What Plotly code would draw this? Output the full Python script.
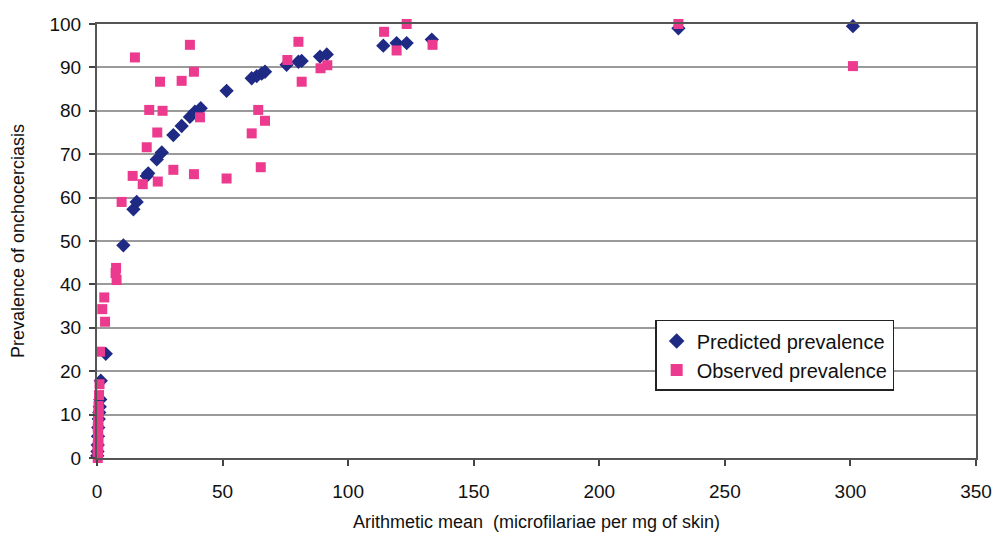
import plotly.graph_objects as go

# Predicted prevalence (blue diamonds)
pred_x = [0.1, 0.2, 0.3, 0.4, 0.5, 0.7, 0.9, 1.1, 1.3, 1.5, 3.5,
          10.5, 14.5, 15.8, 19.8, 20.4, 23.8, 25.8, 30.4, 33.7, 37.0, 39.0, 41.3,
          51.6, 61.6, 63.6, 65.6, 66.9, 75.5, 80.2, 81.5, 88.8, 91.5,
          114.0, 119.3, 123.3, 133.3, 231.5, 301.0]
pred_y = [0.5, 1.5, 3.0, 5.0, 7.0, 9.0, 10.5, 11.8, 13.5, 17.8, 24.0,
          49.0, 57.3, 59.0, 65.0, 65.6, 68.8, 70.4, 74.4, 76.5, 78.6, 79.8, 80.6,
          84.6, 87.5, 88.0, 88.6, 89.0, 90.6, 91.3, 91.5, 92.5, 93.0,
          95.0, 95.6, 95.6, 96.4, 99.0, 99.5]

# Observed prevalence (pink squares)
obs_x = [0.3, 0.4, 0.2, 0.5, 0.3, 0.6, 0.4, 0.5, 0.3, 0.6, 0.4, 0.5, 0.7, 0.6, 0.8, 1.0,
         1.2, 3.2, 2.1, 2.9, 7.8, 7.4, 7.6, 9.8,
         14.2, 15.1, 18.2, 19.8, 20.8, 24.0, 24.2, 25.1, 26.1, 30.4, 33.7, 37.0, 38.6, 38.6, 41.0,
         51.6, 61.6, 64.2, 65.2, 66.9, 75.8, 80.2, 81.5, 89.0, 91.7,
         114.3, 119.3, 123.3, 133.6, 231.5, 301.0]
obs_y = [0.0, 0.8, 1.5, 2.3, 3.0, 4.0, 5.0, 6.0, 7.0, 8.0, 9.0, 10.0, 11.0, 12.0, 14.5, 17.0,
         24.5, 31.4, 34.3, 37.0, 41.0, 42.6, 43.8, 59.0,
         65.0, 92.3, 63.1, 71.6, 80.2, 75.0, 63.7, 86.7, 80.0, 66.4, 86.9, 95.2, 89.0, 65.4, 78.5,
         64.4, 74.8, 80.2, 67.0, 77.7, 91.7, 95.9, 86.7, 89.8, 90.5,
         98.2, 93.9, 100.0, 95.2, 100.0, 90.3]

x_ticks = [0, 50, 100, 150, 200, 250, 300, 350]
y_ticks = [0, 10, 20, 30, 40, 50, 60, 70, 80, 90, 100]

fig = go.Figure()
fig.add_trace(go.Scatter(
    x=pred_x, y=pred_y, mode="markers", name="Predicted prevalence",
    marker=dict(symbol="diamond", size=11, color="#1f2a85"),
    cliponaxis=False,
))
fig.add_trace(go.Scatter(
    x=obs_x, y=obs_y, mode="markers", name="Observed prevalence",
    marker=dict(symbol="square", size=10, color="#ec3a8e"),
    cliponaxis=False,
))

font_family = "Liberation Sans, Arial, sans-serif"
fig.update_layout(
    width=996, height=540,
    margin=dict(l=97, r=20, t=24, b=82),
    paper_bgcolor="white", plot_bgcolor="white",
    font=dict(family=font_family, size=19, color="#111"),
    showlegend=True,
    legend=dict(
        x=0.635, y=0.318, xanchor="left", yanchor="top",
        bgcolor="white", bordercolor="#222", borderwidth=1.5,
        font=dict(size=20, color="#111"),
        itemsizing="constant", tracegroupgap=0, itemwidth=30,
    ),
    annotations=[
        dict(text="Arithmetic mean  (microfilariae per mg of skin)",
             xref="paper", yref="paper", x=0.5, y=-0.148, xanchor="center", yanchor="middle",
             showarrow=False, font=dict(size=18, color="#111")),
        dict(text="Prevalence of onchocerciasis", textangle=-90,
             xref="paper", yref="paper", x=-0.0898, y=0.5, xanchor="center", yanchor="middle",
             showarrow=False, font=dict(size=18, color="#111")),
    ],
)
fig.update_xaxes(
    range=[0, 350], tickvals=x_ticks, ticktext=[str(v) for v in x_ticks],
    showgrid=False, zeroline=False, automargin=False,
    showline=True, linecolor="#555", linewidth=2, mirror=True,
    ticks="outside", ticklen=6, tickwidth=1.5, tickcolor="#444",
    ticklabelstandoff=9,
    tickfont=dict(size=19),
)
fig.update_yaxes(
    range=[0, 100], tickvals=y_ticks, ticktext=[str(v) for v in y_ticks],
    showgrid=True, gridcolor="#9a9a9a", gridwidth=1.5, zeroline=False, automargin=False,
    showline=True, linecolor="#555", linewidth=2, mirror=True,
    ticks="outside", ticklen=6, tickwidth=1.5, tickcolor="#444",
    ticklabelstandoff=4,
    tickfont=dict(size=19),
)

fig.write_html(
    "out.html",
    config={"displayModeBar": False},
    post_script="document.body.style.margin='0';document.body.style.padding='0';",
)
